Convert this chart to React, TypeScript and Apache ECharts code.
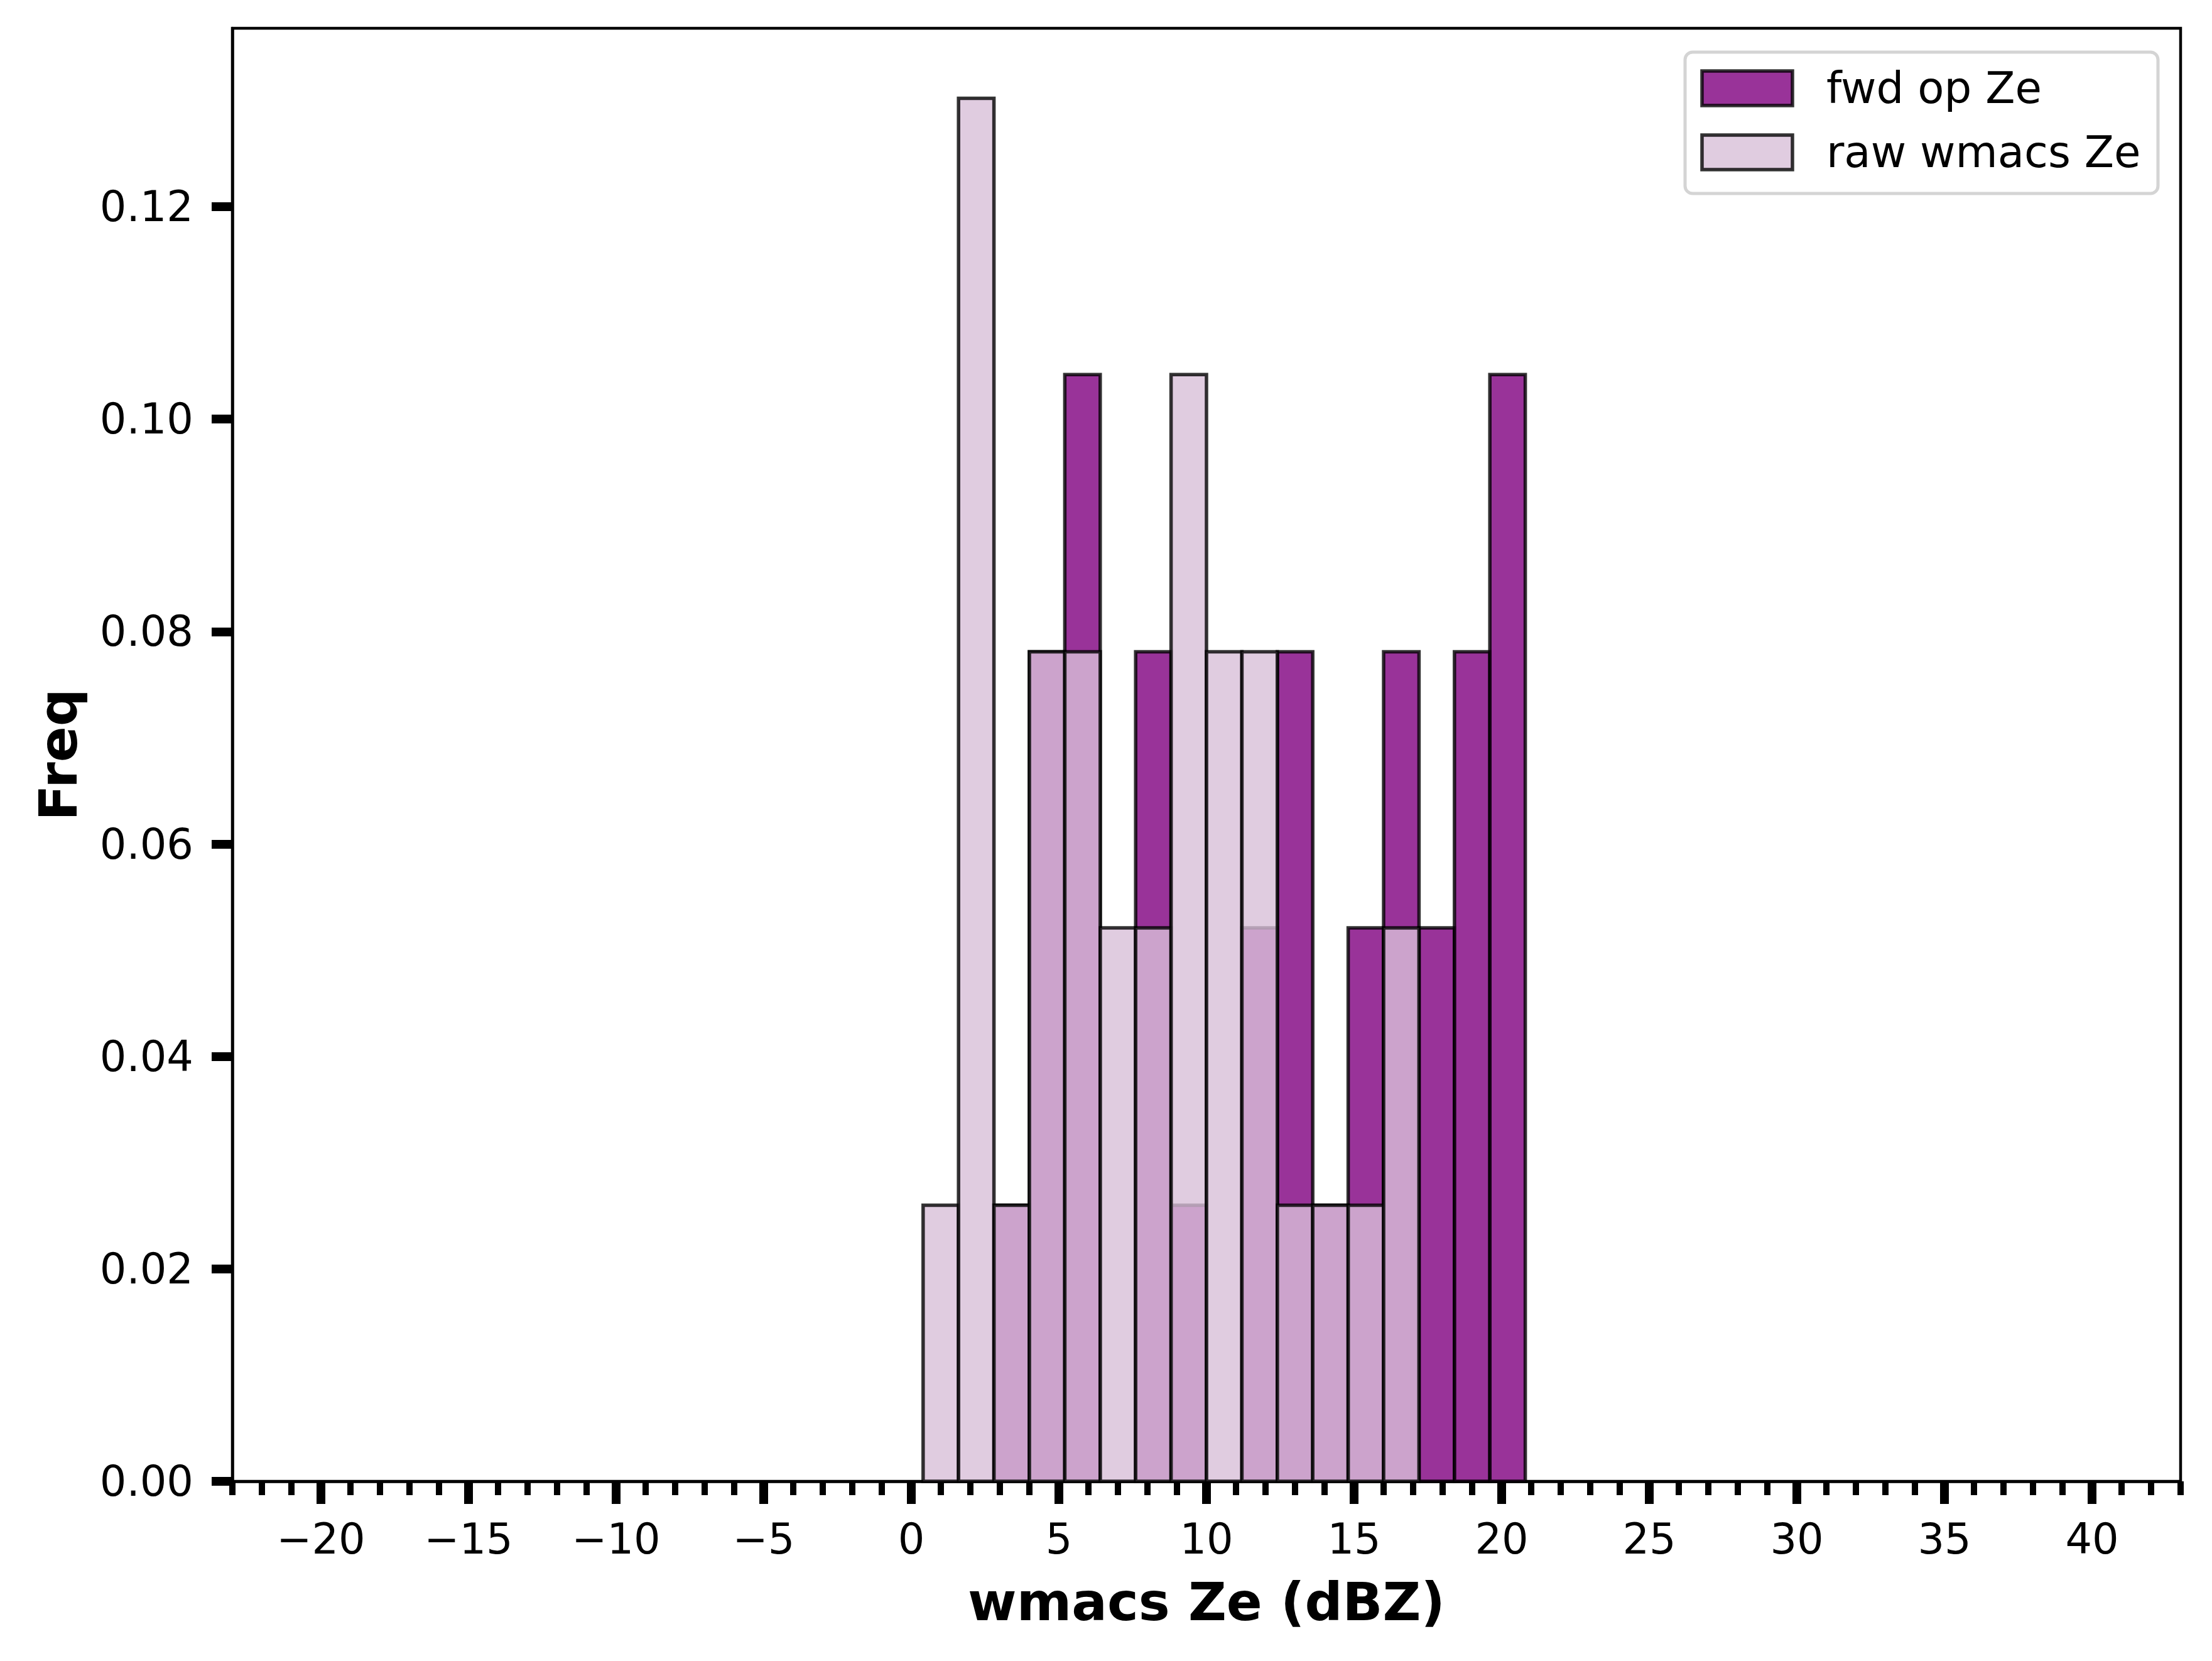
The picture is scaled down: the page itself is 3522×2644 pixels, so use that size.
import React, { useEffect, useRef } from "react";
import * as echarts from "echarts";

// Histogram bin edges (dBZ)
const binEdges = [0.4, 1.6, 2.8, 4.0, 5.2, 6.4, 7.6, 8.8, 10.0, 11.2, 12.4, 13.6, 14.8, 16.0, 17.2, 18.4, 19.6, 20.8];
// Densities per bin
const fwdOpZe = [0, 0, 0.0260, 0.0781, 0.1042, 0, 0.0781, 0.0260, 0, 0.0521, 0.0781, 0.0260, 0.0521, 0.0781, 0.0521, 0.0781, 0.1042];
const rawWmacsZe = [0.0260, 0.1302, 0.0260, 0.0781, 0.0781, 0.0521, 0.0521, 0.1042, 0.0781, 0.0781, 0.0260, 0.0260, 0.0260, 0.0521, 0, 0, 0];
const seriesNames = ["fwd op Ze", "raw wmacs Ze"];
const xMajorTicks = [-20, -15, -10, -5, 0, 5, 10, 15, 20, 25, 30, 35, 40];
const yTicks = [0, 0.02, 0.04, 0.06, 0.08, 0.1, 0.12];

const FONT = "DejaVu Sans";
const FWD_FILL = "rgba(128,0,128,0.8)";
const RAW_FILL = "rgba(216,191,216,0.8)";
const EDGE = "rgba(0,0,0,0.8)";
const EDGE_W = 5.5;

function histSeries(name: string, values: number[], fill: string) {
  const data = values
    .map((v, i) => [binEdges[i], binEdges[i + 1], v])
    .filter((d) => d[2] > 0);
  return {
    type: "custom",
    name,
    xAxisIndex: 0,
    yAxisIndex: 0,
    data,
    encode: { x: [0, 1], y: 2 },
    renderItem: (_params: any, api: any) => {
      const p0 = api.coord([api.value(0), 0]);
      const p1 = api.coord([api.value(1), api.value(2)]);
      return {
        type: "rect",
        shape: { x: p0[0], y: p1[1], width: p1[0] - p0[0], height: p0[1] - p1[1] },
        style: { fill, stroke: EDGE, lineWidth: EDGE_W },
      };
    },
  };
}

export default function App() {
  const ref = useRef<HTMLDivElement>(null);
  useEffect(() => {
    document.body.style.margin = "0";
    const chart = echarts.init(ref.current!, null, { renderer: "svg" });
    const fmtX = (v: number) => (v < 0 ? "\u2212" + Math.abs(v) : String(v));
    chart.setOption({
      animation: false,
      backgroundColor: "#ffffff",
      grid: {
        left: 370,
        right: 50,
        top: 45,
        bottom: 286,
        show: true,
        borderColor: "#000",
        borderWidth: 4.5,
        backgroundColor: "transparent",
      },
      xAxis: [
        {
          type: "value",
          min: -23,
          max: 43,
          name: "wmacs Ze (dBZ)",
          nameLocation: "middle",
          nameGap: 150,
          nameTextStyle: { fontFamily: FONT, fontSize: 84, fontWeight: "bold", color: "#000" },
          splitLine: { show: false },
          axisLine: { show: true, onZero: false, lineStyle: { color: "#000", width: 4.5 } },
          axisTick: { show: true, customValues: xMajorTicks, length: 36, lineStyle: { color: "#000", width: 14 } },
          axisLabel: {
            customValues: xMajorTicks,
            formatter: fmtX,
            margin: 58,
            fontFamily: FONT,
            fontSize: 67,
            color: "#000",
          },
        },
        {
          type: "value",
          min: -23,
          max: 43,
          interval: 1,
          position: "bottom",
          splitLine: { show: false },
          axisLine: { show: false },
          axisLabel: { show: false },
          axisTick: { show: true, length: 22, lineStyle: { color: "#000", width: 10 } },
        },
      ],
      yAxis: {
        type: "value",
        min: 0,
        max: 0.1368,
        name: "Freq",
        nameLocation: "middle",
        nameGap: 235,
        nameTextStyle: { fontFamily: FONT, fontSize: 84, fontWeight: "bold", color: "#000" },
        splitLine: { show: false },
        axisLine: { show: true, onZero: false, lineStyle: { color: "#000", width: 4.5 } },
        axisTick: { show: true, customValues: yTicks, length: 33, lineStyle: { color: "#000", width: 14 } },
        axisLabel: {
          customValues: yTicks,
          formatter: (v: number) => v.toFixed(2),
          margin: 62,
          fontFamily: FONT,
          fontSize: 67,
          color: "#000",
        },
      },
      series: [histSeries(seriesNames[0], fwdOpZe, FWD_FILL), histSeries(seriesNames[1], rawWmacsZe, RAW_FILL)],
      graphic: {
        elements: [
          {
            type: "rect",
            z: 100,
            shape: { x: 2683, y: 83, width: 753, height: 225, r: 12 },
            style: { fill: "rgba(255,255,255,0.8)", stroke: "#d4d4d4", lineWidth: 5 },
          },
          {
            type: "rect",
            z: 101,
            shape: { x: 2710, y: 113, width: 144, height: 55 },
            style: { fill: FWD_FILL, stroke: EDGE, lineWidth: EDGE_W },
          },
          {
            type: "rect",
            z: 101,
            shape: { x: 2710, y: 215, width: 144, height: 55 },
            style: { fill: RAW_FILL, stroke: EDGE, lineWidth: EDGE_W },
          },
          {
            type: "text",
            z: 101,
            x: 2908,
            y: 140,
            style: { text: seriesNames[0], fontFamily: FONT, fontSize: 69, fill: "#000", verticalAlign: "middle", align: "left" },
          },
          {
            type: "text",
            z: 101,
            x: 2908,
            y: 242,
            style: { text: seriesNames[1], fontFamily: FONT, fontSize: 69, fill: "#000", verticalAlign: "middle", align: "left" },
          },
        ],
      },
    });
    return () => chart.dispose();
  }, []);
  return (
    <div
      ref={ref}
      style={{ position: "absolute", left: 0, top: 0, width: "3522px", height: "2644px" }}
    />
  );
}
